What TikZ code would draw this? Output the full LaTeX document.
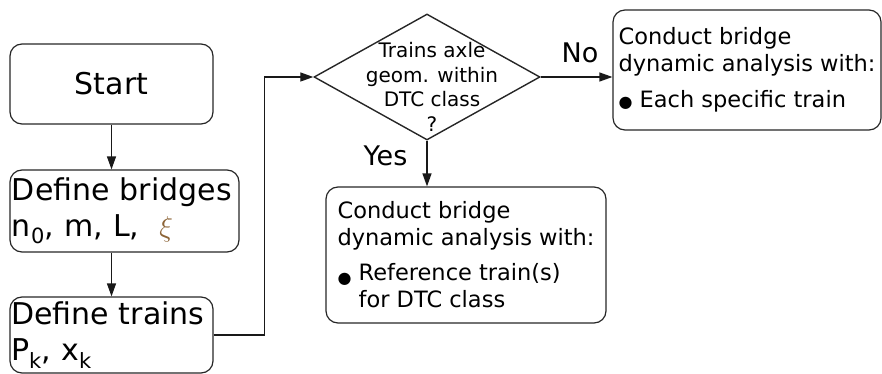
\documentclass[tikz,border=0pt]{standalone}
\usepackage{fontspec}
\setmainfont{DejaVu Sans}
\usetikzlibrary{shapes.geometric, arrows.meta}

\definecolor{xibrown}{RGB}{140, 100, 55}
\newcommand{\blob}{{\fontsize{16}{16}\selectfont ●}}

\begin{document}
\begin{tikzpicture}[x=1pt, y=-1pt,
    stepbox/.style={draw=black!85, line width=1.2pt, rounded corners=12pt, inner ysep=0pt},
    bigtext/.style={font=\fontsize{30}{36}\selectfont},
    boxtext/.style={font=\fontsize{22.5}{27}\selectfont},
    flow/.style={draw=black!90, line width=1.3pt, -{Triangle[length=13pt, width=9pt]}}]
    \useasboundingbox (0, 0) rectangle (882, 374);

    % left column
    \node[stepbox, bigtext, minimum width=203pt, minimum height=80pt] (start) at (111.5, 84) {Start};
    \node[stepbox, bigtext, inner xsep=2pt, text width=225pt, align=left, minimum height=82pt] (bridges) at (124.5, 211)
        {Define bridges\\n\textsubscript{0}, m, L, \ \textcolor{xibrown}{\scalebox{1.15}{$\xi$}}};
    \node[stepbox, bigtext, inner xsep=1pt, text width=201pt, align=left, minimum height=76pt] (trains) at (111.5, 335)
        {Define trains\\P\textsubscript{k}, x\textsubscript{k}};

    % decision
    \node[draw=black!85, line width=1.4pt, diamond, minimum width=226pt, minimum height=126pt, inner sep=0pt] (check) at (427, 77) {};
    \node[font=\fontsize{20}{24.5}\selectfont, align=center] (checktext) at (432, 87) {Trains axle\\geom. within\\DTC class\\?};

    % outcomes
    \node[stepbox, boxtext, align=left, minimum width=268pt, minimum height=120pt] (specific) at (747, 70)
        {Conduct bridge\\dynamic analysis with:\\[9pt]\blob~Each specific train};
    \node[stepbox, boxtext, align=left, minimum width=280pt, minimum height=136pt] (reference) at (466, 255)
        {Conduct bridge\\dynamic analysis with:\\[8pt]\raisebox{-3pt}{\blob}~Reference train(s)\\\phantom{\blob~}for DTC class};

    \node[font=\fontsize{27}{27}\selectfont, anchor=base] (no) at (580, 63) {No};
    \node[font=\fontsize{27}{27}\selectfont, anchor=base] (yes) at (385.5, 165) {Yes};

    % connectors
    \draw[flow] (start.south) -- (start.south |- bridges.north);
    \draw[flow] (start.south |- bridges.south) -- (start.south |- trains.north);
    \draw[flow] (trains.east) -- ++(51, 0) |- (check.west);
    \draw[flow] (check.east) -- (check.east -| specific.west);
    \draw[flow] (check.south) -- (check.south |- reference.north);
\end{tikzpicture}
\end{document}
